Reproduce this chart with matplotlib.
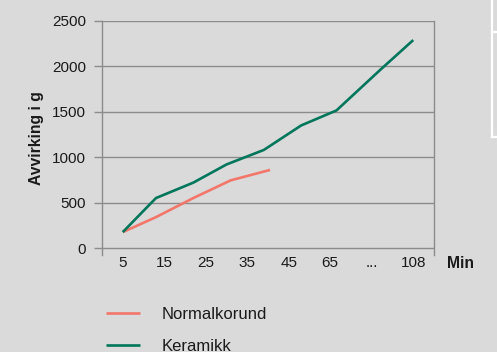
import matplotlib.pyplot as plt
from matplotlib.lines import Line2D

# category axis (minutes)
categories = ['5', '15', '25', '35', '45', '65', '...', '108']

# series, x given as category index (points sit between categories)
normal_x = [0, 0.8, 1.7, 2.6, 3.55]
normal_y = [175, 340, 550, 745, 860]

keramikk_x = [0, 0.8, 1.7, 2.5, 3.4, 4.3, 5.15, 6.2, 7.0]
keramikk_y = [175, 550, 720, 920, 1080, 1350, 1515, 1960, 2290]

bg = '#dadada'
grid_col = '#8c8c8c'
red = '#f2766a'
green = '#00775b'
txt = '#1a1a1a'

plt.rcParams['font.family'] = ['Liberation Sans', 'DejaVu Sans']

fig = plt.figure(figsize=(4.97, 3.52), dpi=100, facecolor=bg)
ax = fig.add_axes([102/497, 1 - 255/352, 332/497, 234/352], facecolor=bg)

l1, = ax.plot(normal_x, normal_y, color=red, lw=1.9, solid_capstyle='butt')
l2, = ax.plot(keramikk_x, keramikk_y, color=green, lw=1.9, solid_capstyle='butt')

ax.set_xlim(-0.5, 7.5)
ax.set_ylim(-77, 2500)
ax.set_yticks(range(0, 2501, 500))
ax.set_xticks(range(len(categories)))
ax.set_xticklabels(categories)
ax.yaxis.grid(True, color=grid_col, lw=1.0)
ax.set_axisbelow(True)

for s in ['top', 'bottom']:
    ax.spines[s].set_visible(False)
for s in ['left', 'right']:
    ax.spines[s].set_color(grid_col)
    ax.spines[s].set_linewidth(1.0)

ax.tick_params(axis='y', length=6, width=1.0, color=grid_col, pad=5.5,
               labelsize=11, labelcolor=txt)
ax.tick_params(axis='x', length=0, pad=0.5, labelsize=11, labelcolor=txt)

ax.set_ylabel('Avvirking i g', fontsize=11.3, fontweight='bold', labelpad=6,
              color=txt)
fig.text(460/497, 1 - 263/352, 'Min', fontsize=11.3, fontweight='bold',
         ha='center', va='center', color=txt)

fig.legend([l1, l2], ['Normalkorund', 'Keramikk'], loc='upper left',
           bbox_to_anchor=(91/497, 1 - 292/352), frameon=False,
           fontsize=12, handlelength=2.05, handletextpad=1.3,
           labelspacing=1.02, labelcolor=txt)

# white box edge cut off at the right border
for (x0, x1, y0, y1) in [(491.5, 491.5, 0, 137), (491.5, 497, 32, 32),
                         (491.5, 497, 137, 137)]:
    fig.add_artist(Line2D([x0/497, x1/497], [1 - y0/352, 1 - y1/352],
                          color='white', lw=1.6, transform=fig.transFigure))

fig.savefig('out.png', dpi=100, facecolor=bg)
